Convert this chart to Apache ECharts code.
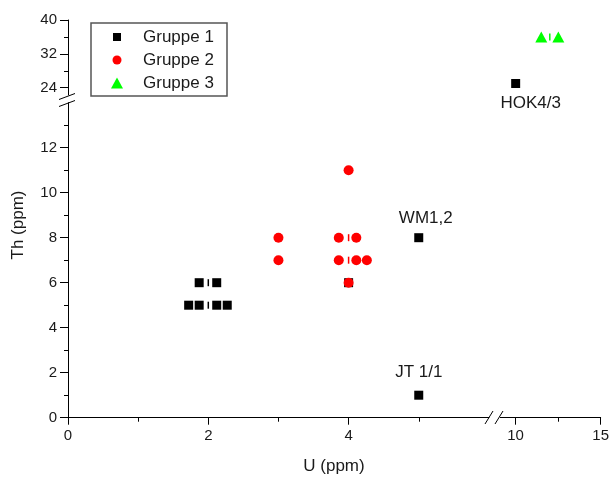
<!DOCTYPE html>
<html><head><meta charset="utf-8">
<script src="https://cdn.jsdelivr.net/npm/echarts@6/dist/echarts.min.js"></script>
<style>html,body{margin:0;padding:0;background:#fff}#c{width:612px;height:477px}</style>
</head><body><div id="c"></div>
<script>
// ---- data ----
const g1U  = [1.72, 1.87, 2.12, 2.27, 1.87, 2.12, 4.0, 5.0, 5.0, 10.0];
const g1Th = [5, 5, 5, 5, 6, 6, 6, 8, 1, 25];
const g1Names = ['', '', '', '', '', '', '', 'WM1,2', 'JT 1/1', 'HOK4/3'];
const g2U  = [4.0, 3.0, 3.0, 3.86, 4.11, 3.86, 4.11, 4.26, 4.0];
const g2Th = [11, 8, 7, 8, 8, 7, 7, 7, 6];
const g3U  = [11.5, 12.5];
const g3Th = [36, 36];
// short vertical strokes drawn between some markers
const g1BarU = [2, 2];  const g1BarTh = [5, 6];
const g2BarU = [4, 4];  const g2BarTh = [7, 8];
const g3BarU = [12];    const g3BarTh = [36];

const xLeftRange = [0, 6],   xRightRange = [9.1, 15];
const yLowRange  = [0, 14],  yHighRange  = [22.3, 40];
const xLeftTicks = [0, 2, 4],  xLeftMinor = [1, 3, 5];
const xRightTicks = [10, 15],  xRightMinor = [12.5];
const yLowTicks = [0, 2, 4, 6, 8, 10, 12], yLowMinor = [1, 3, 5, 7, 9, 11, 13];
const yHighTicks = [24, 32, 40], yHighMinor = [28, 36];

// ---- layout / style ----
const FONT = 'Arial, "Liberation Sans", Helvetica, sans-serif';
const TXT = '#1a1a1a';
const L = 68, XL_W = 420.9, XR_L = 500.3, XR_W = 100.7;
const Y_LOW_TOP = 102.7, Y_LOW_H = 315, Y_HIGH_TOP = 20, Y_HIGH_H = 74.9;

const grids = [
  {left: L,    width: XL_W, top: Y_LOW_TOP,  height: Y_LOW_H},
  {left: XR_L, width: XR_W, top: Y_LOW_TOP,  height: Y_LOW_H},
  {left: L,    width: XL_W, top: Y_HIGH_TOP, height: Y_HIGH_H},
  {left: XR_L, width: XR_W, top: Y_HIGH_TOP, height: Y_HIGH_H}
];

function axis(dim, gi, range, ticks, opts) {
  const a = {
    type: 'value', gridIndex: gi, min: range[0], max: range[1],
    position: dim === 'x' ? 'bottom' : 'left',
    splitLine: {show: false},
    axisLine: {show: !!opts.line, onZero: false, lineStyle: {color: '#000', width: 1}},
    axisTick: {show: !!ticks, customValues: ticks || [], length: opts.len || 7, inside: false, lineStyle: {color: '#000', width: 1}},
    axisLabel: {show: !!opts.labels, customValues: opts.labels ? ticks : [], fontSize: 15, color: TXT, fontFamily: FONT, margin: dim === 'x' ? 11 : 11},
    silent: true
  };
  if (opts.hidden) a.show = false;
  return a;
}

const xAxes = [
  axis('x', 0, xLeftRange, xLeftTicks, {line: true, labels: true, len: 7}),
  axis('x', 1, xRightRange, xRightTicks, {line: true, labels: true, len: 7}),
  axis('x', 2, xLeftRange, null, {hidden: true}),
  axis('x', 3, xRightRange, null, {hidden: true}),
  axis('x', 0, xLeftRange, xLeftMinor, {len: 4}),
  axis('x', 1, xRightRange, xRightMinor, {len: 4})
];
const yAxes = [
  axis('y', 0, yLowRange, yLowTicks, {line: true, labels: true, len: 8}),
  axis('y', 1, yLowRange, null, {hidden: true}),
  axis('y', 2, yHighRange, yHighTicks, {line: true, labels: true, len: 8}),
  axis('y', 3, yHighRange, null, {hidden: true}),
  axis('y', 0, yLowRange, yLowMinor, {len: 4}),
  axis('y', 2, yHighRange, yHighMinor, {len: 4})
];

const labelStyles = {
  'WM1,2':  {position: 'top', distance: 6, offset: [7, 0]},
  'JT 1/1': {position: 'top', distance: 10, offset: [0, 0]},
  'HOK4/3': {position: 'bottom', distance: 7, offset: [15, 0]}
};

function segOf(u, th) {
  return (th > yLowRange[1] ? 2 : 0) + (u > xLeftRange[1] ? 1 : 0);
}

const series = [];
function addGroup(name, U, Th, names, symbol, size, color) {
  const buckets = {};
  U.forEach((u, i) => {
    const g = segOf(u, Th[i]);
    const nm = names && names[i];
    const item = nm ? {value: [u, Th[i]], label: Object.assign({show: true, formatter: nm, fontSize: 17, color: TXT, fontFamily: FONT}, labelStyles[nm])} : [u, Th[i]];
    (buckets[g] = buckets[g] || []).push(item);
  });
  Object.keys(buckets).forEach(g => {
    series.push({
      type: 'scatter', name: name, xAxisIndex: +g, yAxisIndex: +g,
      symbol: symbol, symbolSize: size, itemStyle: {color: color, opacity: 1},
      emphasis: {disabled: true}, data: buckets[g]
    });
  });
}
addGroup('Gruppe 1', g1U, g1Th, g1Names, 'rect', 9, '#000000');
addGroup('Gruppe 2', g2U, g2Th, null, 'circle', 10, '#ff0000');
addGroup('Gruppe 3', g3U, g3Th, null, 'triangle', [12, 11], '#00ff00');
addGroup('bars1', g1BarU, g1BarTh, null, 'rect', [1.5, 7], '#000000');
addGroup('bars2', g2BarU, g2BarTh, null, 'rect', [1.5, 7], '#ff0000');
addGroup('bars3', g3BarU, g3BarTh, null, 'rect', [1.5, 7], '#00ff00');

const legendRows = [
  {name: 'Gruppe 1', icon: 'rect', w: 8, h: 8, cy: 37},
  {name: 'Gruppe 2', icon: 'circle', w: 9, h: 9, cy: 60},
  {name: 'Gruppe 3', icon: 'triangle', w: 12, h: 11, cy: 83}
];
const legends = legendRows.map(r => ({
  data: [{name: r.name, icon: r.icon}],
  left: 117 - r.w / 2, top: r.cy - 8.5, padding: 0,
  itemWidth: r.w, itemHeight: r.h, selectedMode: false,
  textStyle: {fontSize: 17, color: TXT, fontFamily: FONT, padding: [0, 0, 0, 143 - (117 + r.w / 2) - 5]}
}));

const brk = {stroke: '#000', lineWidth: 1};
const graphics = [
  {type: 'rect', shape: {x: 91, y: 23, width: 136, height: 73}, style: {fill: 'none', stroke: '#555', lineWidth: 1.5}, z: 1},
  {type: 'line', shape: {x1: 485, y1: 424, x2: 493, y2: 411}, style: brk},
  {type: 'line', shape: {x1: 495, y1: 424, x2: 503, y2: 411}, style: brk},
  {type: 'line', shape: {x1: 59, y1: 99.5, x2: 75, y2: 93.5}, style: brk},
  {type: 'line', shape: {x1: 59, y1: 106.5, x2: 75, y2: 100.5}, style: brk},
  {type: 'text', x: 334, y: 466, style: {text: 'U (ppm)', fontSize: 17, fontFamily: FONT, fill: TXT, align: 'center', verticalAlign: 'middle', textAlign: 'center', textVerticalAlign: 'middle'}},
  {type: 'text', x: 18, y: 225, rotation: Math.PI / 2, style: {text: 'Th (ppm)', fontSize: 17, fontFamily: FONT, fill: TXT, align: 'center', verticalAlign: 'middle', textAlign: 'center', textVerticalAlign: 'middle'}}
];

const chart = echarts.init(document.getElementById('c'));
chart.setOption({
  animation: false,
  backgroundColor: '#ffffff',
  grid: grids,
  xAxis: xAxes,
  yAxis: yAxes,
  legend: legends,
  graphic: graphics,
  series: series
});
</script>
</body></html>
